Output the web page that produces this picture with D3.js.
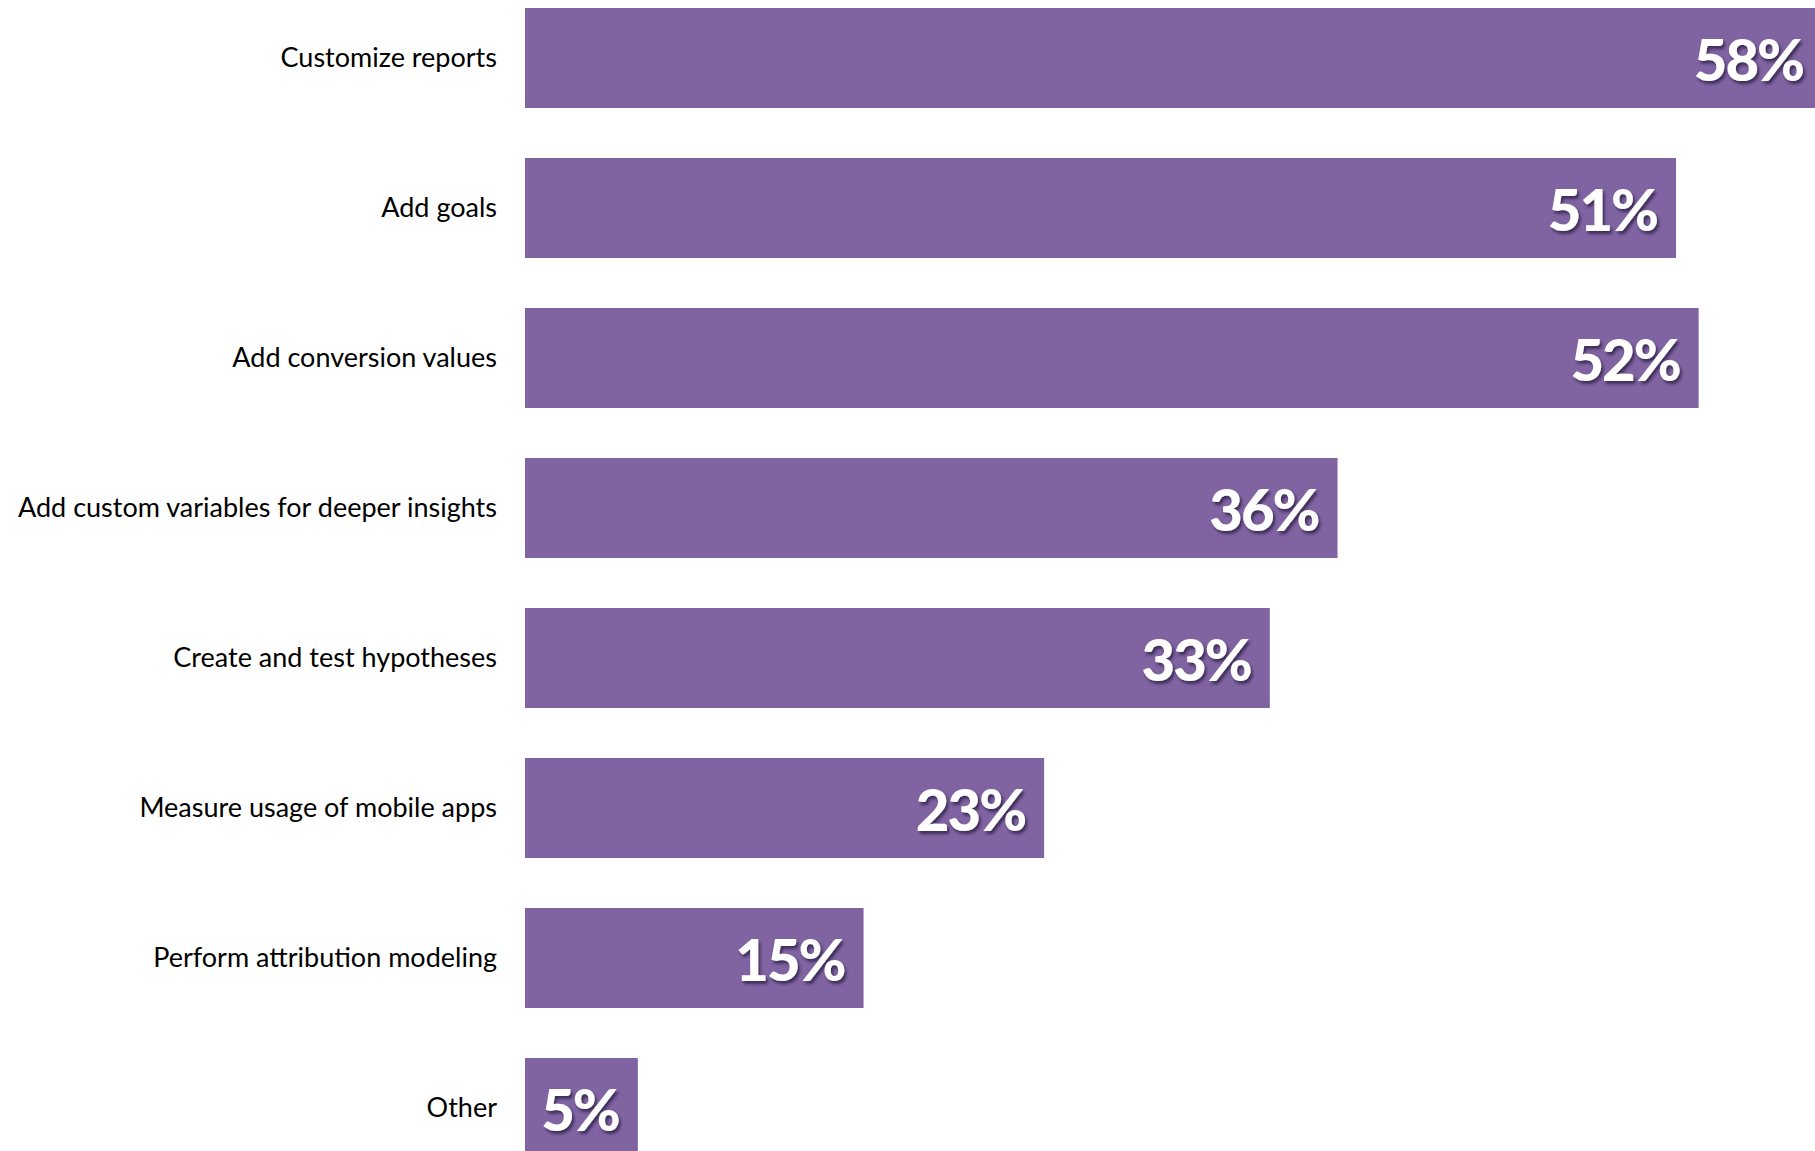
<!DOCTYPE html>
<html>
<head>
<meta charset="utf-8">
<script src="https://cdn.jsdelivr.net/npm/d3@7"></script>
<style>
  html, body { margin: 0; padding: 0; background: #ffffff; overflow: hidden; }
  svg { display: block; }
</style>
</head>
<body>
<svg id="chart" width="1815" height="1151"></svg>
<script>
const categories = [
  "Customize reports",
  "Add goals",
  "Add conversion values",
  "Add custom variables for deeper insights",
  "Create and test hypotheses",
  "Measure usage of mobile apps",
  "Perform attribution modeling",
  "Other"
];
const values = [58, 51, 52, 36, 33, 23, 15, 5];
const valueLabels = ["58%", "51%", "52%", "36%", "33%", "23%", "15%", "5%"];

const W = 1815, H = 1151;
const STEP = 150, BAR = 100, TOP = 8;
const svg = d3.select("#chart");

const defs = svg.append("defs");
const f = defs.append("filter").attr("id", "shadow")
  .attr("x", "-20%").attr("y", "-20%").attr("width", "140%").attr("height", "140%");
f.append("feDropShadow").attr("dx", 2).attr("dy", 3).attr("stdDeviation", 1.6)
  .attr("flood-color", "#2a1a40").attr("flood-opacity", 0.75);

const x = d3.scaleLinear().domain([0, 100]).range([525, 525 + 2257]);
const y = d3.scaleBand().domain(categories)
  .range([TOP, TOP + STEP * categories.length - (STEP - BAR)])
  .paddingInner((STEP - BAR) / STEP).paddingOuter(0);

const data = categories.map((c, i) => ({ cat: c, v: values[i], lab: valueLabels[i] }));

svg.append("g").selectAll("rect").data(data).join("rect")
  .attr("x", x(0))
  .attr("y", d => y(d.cat))
  .attr("width", d => x(d.v) - x(0))
  .attr("height", y.bandwidth())
  .attr("fill", "#8064a2");

// category axis labels
const yAxis = d3.axisLeft(y).tickSize(0).tickPadding(0);
const ga = svg.append("g").attr("transform", "translate(497,0)").call(yAxis);
ga.select(".domain").remove();
ga.selectAll("text")
  .attr("font-family", "Lato, 'Open Sans', sans-serif")
  .attr("font-size", 27)
  .attr("fill", "#000")
  .attr("dy", "0.35em");

// value labels
svg.append("g").selectAll("text").data(data).join("text")
  .attr("x", d => Math.min(x(d.v) - 19, W - 12))
  .attr("y", d => y(d.cat) + y.bandwidth() / 2 + 2)
  .attr("dy", "0.36em")
  .attr("text-anchor", "end")
  .attr("font-family", "Lato, sans-serif")
  .attr("font-weight", 900)
  .attr("font-size", 58)
  .attr("letter-spacing", -2)
  .attr("fill", "#ffffff")
  .attr("filter", "url(#shadow)")
  .text(d => d.lab);
</script>
</body>
</html>
